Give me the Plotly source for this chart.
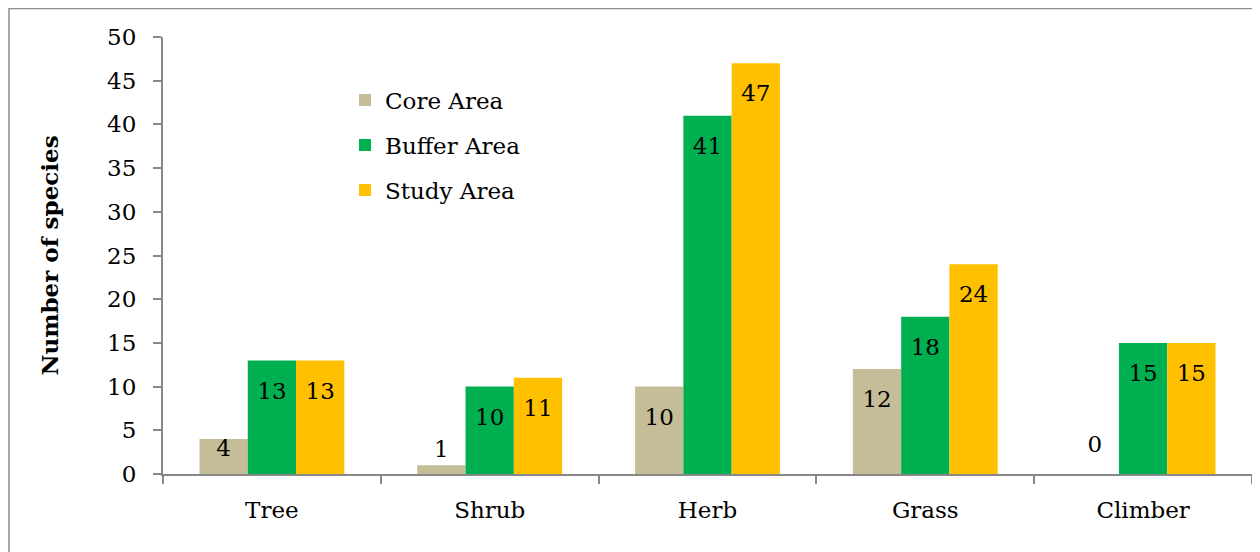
import plotly.graph_objects as go

categories = ["Tree", "Shrub", "Herb", "Grass", "Climber"]
core_area = [4, 1, 10, 12, 0]
buffer_area = [13, 10, 41, 18, 15]
study_area = [13, 11, 47, 24, 15]
series_names = ["Core Area", "Buffer Area", "Study Area"]
colors = ["#C4BD97", "#00B050", "#FFC000"]
y_ticks = list(range(0, 51, 5))

FONT = "DejaVu Serif"
FS = 23
OFF = 8  # page body margin
GAP = 0.335
fig = go.Figure()
legend_ids = ["legend", "legend2", "legend3"]
all_vals = [core_area, buffer_area, study_area]


def label_pad(v):
    if v == 0:
        return 24
    if v < 3:
        return 2
    if v < 6:
        return 0
    return 32


for i, (name, vals, col, lg) in enumerate(zip(series_names, all_vals, colors, legend_ids)):
    fig.add_trace(go.Bar(
        x=categories, y=vals, name=name, marker=dict(color=col, line=dict(width=0)),
        offsetgroup=str(i), legend=lg,
    ))
for i, vals in enumerate(all_vals):
    fig.add_trace(go.Scatter(
        x=categories, y=vals, mode="markers+text", text=[str(v) for v in vals],
        textposition=["top center" if v < 3 else "bottom center" for v in vals],
        marker=dict(size=[label_pad(v) for v in vals], opacity=0),
        textfont=dict(family=FONT, size=FS, color="black"),
        offsetgroup=str(i), showlegend=False, hoverinfo="skip", cliponaxis=False,
    ))

W, H = 1260 - OFF, 552 - OFF
L, T = 163 - OFF, 37 - OFF
R = W - (1252 - OFF)
B = H - (474 - OFF)
pw, ph = W - L - R, H - T - B


def lg_layout(ypx):
    return dict(x=(345 - OFF - L) / pw, y=1 - (ypx - OFF - T) / ph, xanchor="left", yanchor="middle",
                bgcolor="rgba(0,0,0,0)", font=dict(family=FONT, size=FS, color="black"),
                itemwidth=30, tracegroupgap=0)


fig.update_layout(
    width=W, height=H,
    margin=dict(l=L, r=R, t=T, b=B, autoexpand=False),
    paper_bgcolor="white", plot_bgcolor="white",
    barmode="group", bargap=GAP, bargroupgap=0,
    scattermode="group", scattergap=GAP,
    showlegend=True,
    legend=lg_layout(100), legend2=lg_layout(145), legend3=lg_layout(190),
    font=dict(family=FONT, size=FS, color="black"),
    xaxis=dict(showline=True, linecolor="#888888", linewidth=2, tickson="boundaries",
               ticks="outside", ticklen=8, tickcolor="#888888", tickwidth=2,
               tickfont=dict(family=FONT, size=FS, color="black"), showgrid=False,
               ticklabelstandoff=14),
    yaxis=dict(range=[0, 50], tickvals=y_ticks, showline=True, linecolor="#888888", linewidth=2,
               ticks="outside", ticklen=8, tickcolor="#888888", tickwidth=2,
               ticklabelstandoff=12,
               tickfont=dict(family=FONT, size=FS, color="black"), showgrid=False, zeroline=False,
               title=dict(text="<b>Number of species</b>", font=dict(family=FONT, size=FS, color="black"), standoff=42)),
    shapes=[dict(type="rect", xref="paper", yref="paper",
                 x0=(1 - L) / pw, x1=(W + 50 - L) / pw,
                 y0=-(B + 50) / ph, y1=1 + (T - 0.5) / ph,
                 line=dict(color="#8c8c8c", width=1.5), layer="below")],
)

fig.write_html("out.html")
